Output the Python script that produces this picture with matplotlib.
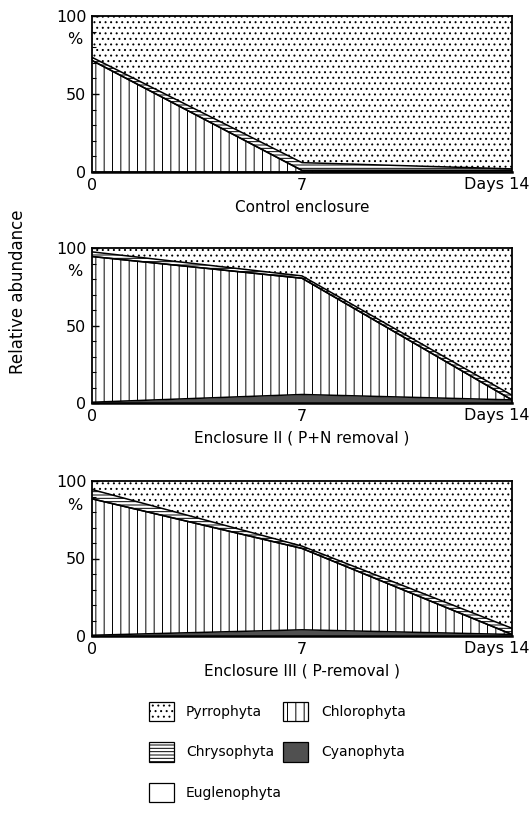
import matplotlib
matplotlib.use("Agg")
import matplotlib.pyplot as plt
from matplotlib.patches import Patch
from matplotlib.ticker import MultipleLocator

plt.rcParams['font.family'] = ['DejaVu Sans']
plt.rcParams['font.size'] = 11
plt.rcParams['hatch.linewidth'] = 0.7

days = [0, 7, 14]

# relative abundance (%) per group, stacked bottom -> top
groups = ['Cyanophyta', 'Chlorophyta', 'Euglenophyta', 'Chrysophyta', 'Pyrrophyta']

cyano_ctrl = [0.0, 0.0, 1.0]
chloro_ctrl = [71.5, 1.0, 0.0]
eugleno_ctrl = [0.0, 0.0, 0.0]
chryso_ctrl = [2.0, 5.0, 1.0]
pyrro_ctrl = [26.5, 94.0, 98.0]

cyano_pn = [0.5, 5.5, 2.0]
chloro_pn = [94.0, 75.0, 0.0]
eugleno_pn = [0.0, 0.0, 0.0]
chryso_pn = [3.0, 1.5, 3.0]
pyrro_pn = [2.5, 18.0, 95.0]

cyano_p = [0.5, 4.0, 1.0]
chloro_p = [88.0, 52.5, 0.0]
eugleno_p = [0.0, 0.0, 0.0]
chryso_p = [6.0, 1.5, 4.0]
pyrro_p = [5.5, 42.0, 95.0]

titles = ['Control enclosure', 'Enclosure II ( P+N removal )', 'Enclosure III ( P-removal )']
panels = [
    [cyano_ctrl, chloro_ctrl, eugleno_ctrl, chryso_ctrl, pyrro_ctrl],
    [cyano_pn, chloro_pn, eugleno_pn, chryso_pn, pyrro_pn],
    [cyano_p, chloro_p, eugleno_p, chryso_p, pyrro_p],
]

styles = {
    'Cyanophyta': dict(facecolor='#505050', hatch=None),
    'Chlorophyta': dict(facecolor='white', hatch='||'),
    'Euglenophyta': dict(facecolor='white', hatch=None),
    'Chrysophyta': dict(facecolor='white', hatch='-----'),
    'Pyrrophyta': dict(facecolor='white', hatch='...'),
}

fig = plt.figure(figsize=(5.32, 8.31), dpi=100)

# axes boxes in pixels: (top, bottom)
W, H = 532, 831
rows = [(16, 172), (248, 403), (481, 636)]
left, right = 92, 512

for (top, bot), title, series in zip(rows, titles, panels):
    ax = fig.add_axes([left / W, 1 - bot / H, (right - left) / W, (bot - top) / H])
    base = [0.0, 0.0, 0.0]
    for name, vals in zip(groups, series):
        upper = [b + v for b, v in zip(base, vals)]
        st = styles[name]
        ax.fill_between(days, base, upper, facecolor=st['facecolor'],
                        hatch=st['hatch'], edgecolor='black', linewidth=0)
        if name != 'Pyrrophyta':
            ax.plot(days, upper, color='black', lw=1.1)
        base = upper

    ax.set_xlim(0, 14)
    ax.set_ylim(0, 100)
    ax.set_yticks([0, 50, 100])
    ax.yaxis.set_minor_locator(MultipleLocator(10))
    ax.tick_params(axis='y', which='major', direction='in', length=5, width=1,
                   pad=4, labelsize=11.5)
    ax.tick_params(axis='y', which='minor', direction='in', length=3, width=0.8)
    ax.set_xticks([0, 7])
    ax.set_xticklabels(['0', '7'])
    ax.tick_params(axis='x', length=0, pad=4, labelsize=11.5)
    for sp in ax.spines.values():
        sp.set_linewidth(1.3)
    ax.spines['bottom'].set_linewidth(1.8)
    ax.annotate('Days 14', xy=(1, 0), xycoords='axes fraction', fontsize=11.5,
                xytext=(18, -5), textcoords='offset pixels', ha='right', va='top')
    ax.annotate('%', xy=(0, 1), xycoords='axes fraction', fontsize=11.5,
                xytext=(-17, -24), textcoords='offset pixels', ha='center', va='center')
    ax.set_xlabel(title, labelpad=5)

fig.text(18 / W, 1 - 292 / H, 'Relative abundance', rotation=90,
         ha='center', va='center', fontsize=12)

order = ['Pyrrophyta', 'Chrysophyta', 'Euglenophyta', 'Chlorophyta', 'Cyanophyta']
handles = [Patch(facecolor=styles[n]['facecolor'], hatch=styles[n]['hatch'],
                 edgecolor='black', linewidth=0.9, label=n) for n in order]
fig.legend(handles=handles, ncol=2, frameon=False, loc='upper left',
           bbox_to_anchor=(143 / W, 1 - 696 / H), fontsize=10,
           handlelength=1.8, handleheight=1.8, handletextpad=0.9,
           labelspacing=1.5, columnspacing=0.1, borderaxespad=0)

fig.savefig('out.png', dpi=100)
